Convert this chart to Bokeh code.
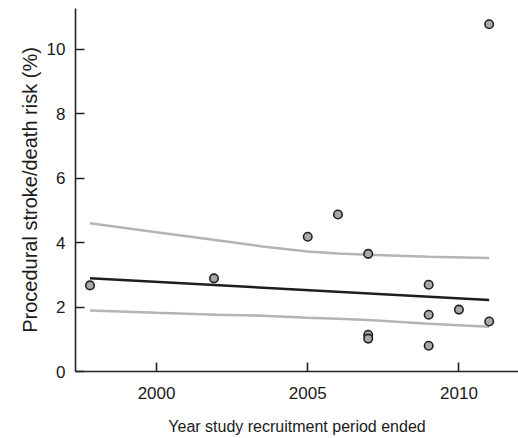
from bokeh.plotting import figure
from bokeh.embed import file_html
from bokeh.resources import INLINE
from bokeh.models import Range1d, FixedTicker

# Study data (year recruitment ended, procedural stroke/death risk %)
years = [1997.8, 2001.9, 2005.0, 2006.0, 2007.0, 2007.0, 2007.0, 2009.0, 2009.0, 2009.0, 2010.0, 2011.0, 2011.0]
risk = [2.67, 2.89, 4.18, 4.87, 3.65, 1.14, 1.02, 2.69, 1.76, 0.80, 1.92, 1.55, 10.77]

# Fitted meta-regression line and confidence band
fit_years = [1997.8, 2011.0]
fit_values = [2.89, 2.22]
band_years = [1997.8, 2000.0, 2002.0, 2003.5, 2005.0, 2006.0, 2007.0, 2009.0, 2011.0]
upper_values = [4.60, 4.32, 4.07, 3.88, 3.72, 3.66, 3.62, 3.56, 3.52]
lower_values = [1.89, 1.82, 1.76, 1.73, 1.67, 1.64, 1.60, 1.48, 1.39]

x_ticks = [2000, 2005, 2010]
y_ticks = [0, 2, 4, 6, 8, 10]

p = figure(width=518, height=438, output_backend="svg", toolbar_location=None,
           x_range=Range1d(1997.32, 2011.97), y_range=Range1d(0, 11.26),
           min_border_left=75, min_border_right=0, min_border_top=8, min_border_bottom=67)
p.outline_line_color = None
p.xgrid.visible = False
p.ygrid.visible = False
p.background_fill_color = "white"

p.line(band_years, upper_values, line_color="#b4b4b4", line_width=2.5)
p.line(band_years, lower_values, line_color="#b4b4b4", line_width=2.5)
p.line(fit_years, fit_values, line_color="#1e1e1e", line_width=2.5)
p.scatter(years, risk, size=8.5, fill_color="#a8a8a8", line_color="#222222", line_width=1.6)

for ax in (p.xaxis[0], p.yaxis[0]):
    ax.axis_line_color = "#222222"
    ax.axis_line_width = 1.6
    ax.major_tick_line_color = "#222222"
    ax.major_tick_line_width = 1.6
    ax.major_tick_in = 9
    ax.major_tick_out = 0
    ax.minor_tick_line_color = None
    ax.major_label_text_font = "Liberation Sans"
    ax.major_label_text_font_size = "17px"
    ax.major_label_text_color = "#1a1a1a"
    ax.axis_label_text_font_style = "normal"
    ax.axis_label_text_color = "#1a1a1a"

p.xaxis.ticker = FixedTicker(ticks=x_ticks)
p.yaxis.ticker = FixedTicker(ticks=y_ticks)
p.xaxis.major_label_standoff = 15
p.yaxis.major_label_standoff = 10

p.xaxis.axis_label = "Year study recruitment period ended"
p.xaxis.axis_label_text_font = "Liberation Sans"
p.xaxis.axis_label_text_font_size = "16px"
p.xaxis.axis_label_standoff = 16

p.yaxis.axis_label = "Procedural stroke/death risk (%)"
p.yaxis.axis_label_text_font = "Liberation Sans"
p.yaxis.axis_label_text_font_size = "20px"
p.yaxis.axis_label_standoff = 3

open("out.html", "w").write(file_html(p, INLINE))
